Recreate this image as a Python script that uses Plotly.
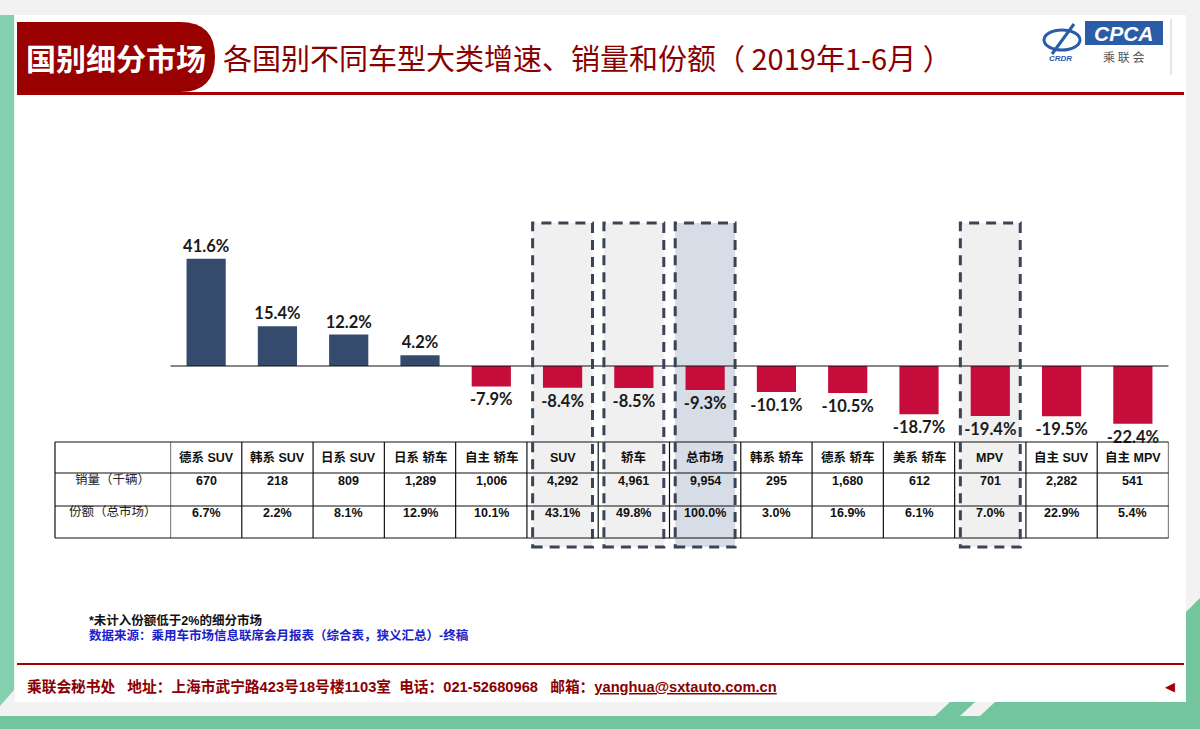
import plotly.graph_objects as go

# ---------------- data ----------------
categories = ["德系 SUV", "韩系 SUV", "日系 SUV", "日系 轿车", "自主 轿车", "SUV", "轿车",
              "总市场", "韩系 轿车", "德系 轿车", "美系 轿车", "MPV", "自主 SUV", "自主 MPV"]
growth = [41.6, 15.4, 12.2, 4.2, -7.9, -8.4, -8.5, -9.3, -10.1, -10.5, -18.7, -19.4, -19.5, -22.4]
sales = [670, 218, 809, 1289, 1006, 4292, 4961, 9954, 295, 1680, 612, 701, 2282, 541]
share = [6.7, 2.2, 8.1, 12.9, 10.1, 43.1, 49.8, 100.0, 3.0, 16.9, 6.1, 7.0, 22.9, 5.4]
row_labels = ["销量（千辆）", "份额（总市场）"]
highlight_gray = ["SUV", "轿车", "MPV"]
highlight_blue = ["总市场"]

title_tab = "国别细分市场"
title_text = "各国别不同车型大类增速、销量和份额（ 2019年1-6月 ）"
note1 = "*未计入份额低于2%的细分市场"
note2 = "数据来源：乘用车市场信息联席会月报表（综合表，狭义汇总）-终稿"
footer = "乘联会秘书处   地址：上海市武宁路423号18号楼1103室  电话：021-52680968   邮箱："
email = "yanghua@sxtauto.com.cn"

# ---------------- geometry helpers ----------------
W, H = 1200, 729
def px(x):
    return x / W
def py(y):
    return 1 - y / H

POS = "#344b6e"
NEG = "#c60c3b"
DARKRED = "#990000"
GREEN = "#72c59d"
GREEN_L = "#84d0af"
LATIN = "Liberation Sans, Arial, Noto Sans CJK SC"
CJK = "Noto Sans CJK SC"

colors = [POS if v >= 0 else NEG for v in growth]
labels = [f"{v:.1f}%" for v in growth]

fig = go.Figure()
fig.add_trace(go.Bar(
    x=categories, y=growth, marker=dict(color=colors, line=dict(width=0)),
    width=0.55, text=labels, textposition="outside", constraintext="none",
    textfont=dict(family="Lato, Open Sans, sans-serif", size=16.5, color="#1a1a1a", weight="bold"),
    cliponaxis=False, hoverinfo="skip",
))

# y scale: zero at 366px, ~2.58 px per %
y_top_px, y_bot_px, zero_px, ppu = 223, 547, 366, 2.58
yr = [-(y_bot_px - zero_px) / ppu, (zero_px - y_top_px) / ppu]

shapes = []
# background decorations
shapes.append(dict(type="rect", xref="paper", yref="paper", x0=px(15), x1=px(1186), y0=py(702), y1=py(15),
                   fillcolor="white", line=dict(width=0), layer="below"))
shapes.append(dict(type="path", xref="paper", yref="paper",
                   path=f"M {px(0)},{py(15)} L {px(14)},{py(15)} L {px(14)},{py(690)} L {px(0)},{py(706)} Z",
                   fillcolor=GREEN_L, line=dict(width=0), layer="below"))
shapes.append(dict(type="rect", xref="paper", yref="paper", x0=0, x1=1, y0=0, y1=py(716),
                   fillcolor=GREEN, line=dict(width=0), layer="below"))
shapes.append(dict(type="path", xref="paper", yref="paper",
                   path=f"M {px(935)},{py(716)} L {px(950)},{py(702)} L {px(975)},{py(702)} L {px(960)},{py(716)} Z",
                   fillcolor=GREEN, line=dict(width=0), layer="below"))
shapes.append(dict(type="path", xref="paper", yref="paper",
                   path=f"M {px(980)},{py(716)} L {px(995)},{py(702)} L {px(1200)},{py(702)} L {px(1200)},{py(716)} Z",
                   fillcolor=GREEN, line=dict(width=0), layer="below"))
shapes.append(dict(type="path", xref="paper", yref="paper",
                   path=f"M {px(1186)},{py(612)} L {px(1200)},{py(598)} L {px(1200)},{py(716)} L {px(1186)},{py(716)} Z",
                   fillcolor=GREEN, line=dict(width=0), layer="below"))
# header tab
shapes.append(dict(type="path", xref="paper", yref="paper",
                   path=(f"M {px(17)},{py(22)} L {px(180)},{py(22)} Q {px(215)},{py(22)} {px(215)},{py(57)} "
                         f"Q {px(215)},{py(92)} {px(180)},{py(92)} L {px(17)},{py(92)} Z"),
                   fillcolor=DARKRED, line=dict(width=0), layer="below"))
shapes.append(dict(type="rect", xref="paper", yref="paper", x0=px(17), x1=px(1184), y0=py(95), y1=py(92),
                   fillcolor="#a30000", line=dict(width=0), layer="below"))
# footer line
shapes.append(dict(type="rect", xref="paper", yref="paper", x0=px(17), x1=px(1184), y0=py(665), y1=py(663),
                   fillcolor="#a30000", line=dict(width=0), layer="below"))
# logo
shapes.append(dict(type="rect", xref="paper", yref="paper", x0=px(1085), x1=px(1163), y0=py(45), y1=py(21),
                   fillcolor="#2a5ca8", line=dict(width=0), layer="below"))
shapes.append(dict(type="circle", xref="paper", yref="paper", x0=px(1044), x1=px(1080), y0=py(50), y1=py(30),
                   line=dict(color="#2a5ca8", width=3), layer="below"))
shapes.append(dict(type="line", xref="paper", yref="paper", x0=px(1052), x1=px(1074), y0=py(54), y1=py(24),
                   line=dict(color="#2a5ca8", width=3), layer="below"))
shapes.append(dict(type="line", xref="paper", yref="paper", x0=px(1171), x1=px(1171), y0=py(75), y1=py(19),
                   line=dict(color="#cccccc", width=1), layer="below"))

# highlight box fills
for c in categories:
    if c in highlight_gray or c in highlight_blue:
        i = categories.index(c)
        shapes.append(dict(type="rect", xref="x", yref="paper", x0=i - 0.42, x1=i + 0.42,
                           y0=py(y_bot_px), y1=py(y_top_px),
                           fillcolor="#d6dde7" if c in highlight_blue else "#f0f0f0",
                           line=dict(width=0), layer="below"))

# zero line
shapes.append(dict(type="line", xref="x domain", yref="y", x0=0, x1=1, y0=0, y1=0,
                   line=dict(color="#111", width=1.2), layer="above"))

# table lines
t_left, t_lab, t_right = 55, 170.5, 1168.5
row_y = [442, 473, 506, 538]
for yy in row_y:
    shapes.append(dict(type="line", xref="paper", yref="paper", x0=px(t_left), x1=px(t_right),
                       y0=py(yy), y1=py(yy), line=dict(color="#111", width=1.2), layer="above"))
shapes.append(dict(type="line", xref="paper", yref="paper", x0=px(t_left), x1=px(t_left),
                   y0=py(row_y[0]), y1=py(row_y[-1]), line=dict(color="#111", width=1.2), layer="above"))
for i in range(len(categories) + 1):
    shapes.append(dict(type="line", xref="x", yref="paper", x0=i - 0.5, x1=i - 0.5,
                       y0=py(row_y[0]), y1=py(row_y[-1]), line=dict(color="#111", width=1.2), layer="above"))

# dashed outlines
for c in categories:
    if c in highlight_gray or c in highlight_blue:
        i = categories.index(c)
        shapes.append(dict(type="rect", xref="x", yref="paper", x0=i - 0.42, x1=i + 0.42,
                           y0=py(y_bot_px), y1=py(y_top_px), fillcolor="rgba(0,0,0,0)",
                           line=dict(color="#3a4456", width=3, dash="10px,7px"), layer="above"))

ann = []
# header texts
ann.append(dict(x=px(24), y=py(57), xref="paper", yref="paper", xanchor="left", yanchor="middle",
                text=f"<b>{title_tab}</b>", showarrow=False,
                font=dict(family=CJK, size=30, color="white")))
ann.append(dict(x=px(221), y=py(57), xref="paper", yref="paper", xanchor="left", yanchor="middle",
                text=title_text, showarrow=False,
                font=dict(family=CJK, size=29, color="#8a0000")))
ann.append(dict(x=px(1124), y=py(33), xref="paper", yref="paper", xanchor="center", yanchor="middle",
                text="<b><i>CPCA</i></b>", showarrow=False,
                font=dict(family=LATIN, size=21, color="white")))
ann.append(dict(x=px(1123), y=py(56), xref="paper", yref="paper", xanchor="center", yanchor="middle",
                text="乘 联 会", showarrow=False, font=dict(family=CJK, size=12, color="#555")))
ann.append(dict(x=px(1060), y=py(58), xref="paper", yref="paper", xanchor="center", yanchor="middle",
                text="<b><i>CRDR</i></b>", showarrow=False, font=dict(family=LATIN, size=8, color="#2a5ca8")))

# table texts
hy = (row_y[0] + row_y[1]) / 2
r1 = (row_y[1] + row_y[2]) / 2
r2 = (row_y[2] + row_y[3]) / 2
for i, c in enumerate(categories):
    ann.append(dict(x=c, y=py(hy), xref="x", yref="paper", xanchor="center", text=f"<b>{c}</b>",
                    showarrow=False, font=dict(family=LATIN, size=12.5, color="#111")))
    ann.append(dict(x=c, y=py(r1), xref="x", yref="paper", xanchor="center", text=f"<b>{sales[i]:,}</b>",
                    showarrow=False, font=dict(family=LATIN, size=12.5, color="#111")))
    ann.append(dict(x=c, y=py(r2), xref="x", yref="paper", xanchor="center", text=f"<b>{share[i]:.1f}%</b>",
                    showarrow=False, font=dict(family=LATIN, size=12.5, color="#111")))
for lab, yy in zip(row_labels, [r1, r2]):
    ann.append(dict(x=px((t_left + t_lab) / 2), y=py(yy), xref="paper", yref="paper", xanchor="center",
                    text=lab, showarrow=False, font=dict(family=CJK, size=12.5, color="#222")))

# notes
ann.append(dict(x=px(87), y=py(620), xref="paper", yref="paper", xanchor="left", yanchor="middle",
                text=f"<b>{note1}</b>", showarrow=False, font=dict(family=LATIN, size=12.5, color="#111")))
ann.append(dict(x=px(87), y=py(635), xref="paper", yref="paper", xanchor="left", yanchor="middle",
                text=f"<b>{note2}</b>", showarrow=False, font=dict(family=LATIN, size=12.5, color="#1a22c8")))
# footer
ann.append(dict(x=px(25), y=py(686), xref="paper", yref="paper", xanchor="left", yanchor="middle",
                text=f"<b>{footer}<span style='text-decoration:underline'>{email}</span></b>", showarrow=False,
                font=dict(family=LATIN, size=14.7, color="#8a0000")))
ann.append(dict(x=px(1170), y=py(686), xref="paper", yref="paper", xanchor="center", yanchor="middle",
                text="◀", showarrow=False, font=dict(family="DejaVu Sans", size=13, color="#a00000")))

fig.update_layout(
    width=W, height=H, margin=dict(l=0, r=0, t=0, b=0),
    paper_bgcolor="#f2f2f2", plot_bgcolor="rgba(0,0,0,0)",
    showlegend=False, bargap=0.45,
    xaxis=dict(domain=[px(t_lab), px(t_right)], range=[-0.5, len(categories) - 0.5],
               visible=False, fixedrange=True),
    yaxis=dict(domain=[py(y_bot_px), py(y_top_px)], range=yr, visible=False, fixedrange=True),
    shapes=shapes, annotations=ann,
)

fig.write_html("out.html")
